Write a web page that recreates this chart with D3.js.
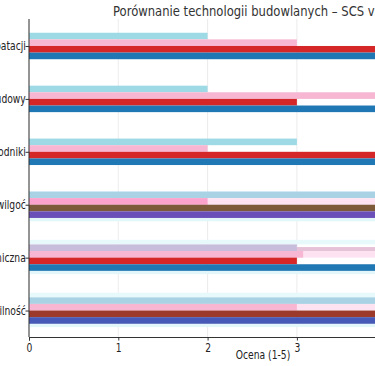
<!DOCTYPE html>
<html><head><meta charset="utf-8">
<script src="https://cdn.jsdelivr.net/npm/d3@7"></script>
<style>body{margin:0;background:#fff;overflow:hidden}svg{display:block;font-family:"DejaVu Sans",sans-serif}</style>
</head><body><div id="c"></div>
<script>
// Categories (top to bottom)
const categories = ["Koszt eksploatacji","Czas budowy","Przewodniki","Odporność na wilgoć","Wytrzymałość mechaniczna","Stabilność"];
const xTicks = [0,1,2,3,4,5];
const title = "Porównanie technologii budowlanych – SCS vs inne";
const xLabel = "Ocena (1-5)";

// Series values (one per category); drawn in order, later layers on top
const valCyan      = [2,2,3,0,0,0];
const valLightBlue = [0,0,0,5,0,5];
const valPaleMid   = [0,0,0,0,5,0];
const valLilac     = [0,0,0,0,3,0];
const valPalePink  = [0,0,0,5,5,5];
const valPink      = [3,5,2,0,3.07,3];
const valHotPink   = [0,0,0,2,0,0];
const valRed       = [5,3,5,0,3,0];
const valBrown     = [0,0,0,5,0,0];
const valBrownRed  = [0,0,0,0,0,5];
const valBlue      = [5,5,5,0,5,0];
const valPurple    = [0,0,0,5,0,0];
const valBluePurple= [0,0,0,0,0,5];
const valFaintTop  = [0,0,0,0,5,5];
const valFaintBot  = [0,0,0,5,5,5];

const layers = [
  {v:valFaintTop,  band:-0.7, h:0.7, c:"#e8f9fc"},
  {v:valFaintBot,  band:4,    h:0.5, c:"#e3f7fb"},
  {v:valCyan,      band:0, h:1, c:"#9edae5"},
  {v:valLightBlue, band:0, h:1, c:"#a9d3e5"},
  {v:valPaleMid,   band:0.4, h:1, c:"#e6c2d8"},
  {v:valLilac,     band:0, h:1, c:"#c8bedb"},
  {v:valPalePink,  band:1, h:1, c:"#fde3f2"},
  {v:valPink,      band:1, h:1, c:"#f7b6d2"},
  {v:valHotPink,   band:1, h:1, c:"#fba3cc"},
  {v:valRed,       band:2, h:1, c:"#d62728"},
  {v:valBrown,     band:2, h:1, c:"#7d5a3a"},
  {v:valBrownRed,  band:2, h:1, c:"#9b3a2b"},
  {v:valBlue,      band:3, h:1, c:"#1f77b4"},
  {v:valPurple,    band:3, h:1, c:"#6a4fb8"},
  {v:valBluePurple,band:3, h:1, c:"#4759b6"}
];

const W = 375, H = 366, SX = 0.8;
const svg = d3.select("#c").append("svg").attr("width", W).attr("height", H);
const x = d3.scaleLinear().domain([0, 5.25]).range([29, 497.8]);
const y = d3.scaleLinear().domain([-0.51, 5.5]).range([19, 337]);
const bandH = 0.125;

// grid
svg.append("g").selectAll("line").data(xTicks).join("line")
  .attr("x1", d => x(d)).attr("x2", d => x(d)).attr("y1", y(-0.51)).attr("y2", y(5.5))
  .attr("stroke", "#b0b0b0").attr("stroke-opacity", 0.3).attr("stroke-width", 0.8);

// bars
layers.forEach(L => {
  svg.append("g").selectAll("rect").data(L.v.map((v, i) => ({v, i})).filter(d => d.v > 0)).join("rect")
    .attr("x", x(0))
    .attr("y", d => y(d.i - 0.25 + L.band * bandH))
    .attr("width", d => x(d.v) - x(0))
    .attr("height", y(L.h * bandH) - y(0))
    .attr("fill", L.c);
});

// axes
const xAxis = d3.axisBottom(x).tickValues(xTicks).tickFormat(d3.format("d")).tickSize(3.5).tickPadding(3);
const gx = svg.append("g").attr("transform", `translate(0,${y(5.5)})`).call(xAxis);
gx.select(".domain").attr("stroke", "#333").attr("stroke-width", 1);
gx.selectAll(".tick line").attr("stroke", "#333");
gx.selectAll("text").attr("font-size", 11.5).attr("fill", "#222").attr("font-family", "DejaVu Sans")
  .attr("transform", `scale(${SX},1)`);

const yAxis = d3.axisLeft(y).tickValues(d3.range(categories.length)).tickFormat(i => categories[i]).tickSize(3.5).tickPadding(3);
const gy = svg.append("g").attr("transform", `translate(${x(0)},0)`).call(yAxis);
gy.select(".domain").attr("stroke", "#333").attr("stroke-width", 1).attr("d", `M0,${y(-0.51)}V${y(5.5)}`);
gy.selectAll(".tick line").attr("stroke", "#333");
gy.selectAll("text").attr("font-size", 11.5).attr("fill", "#222").attr("font-family", "DejaVu Sans")
  .attr("x", -4).attr("transform", `scale(${SX},1)`);

svg.append("text").attr("x", 263).attr("y", 359).attr("text-anchor", "middle")
  .attr("font-size", 11.5).attr("fill", "#222")
  .attr("transform", `translate(263,0) scale(${SX},1) translate(-263,0)`).text(xLabel);
svg.append("text").attr("x", 113).attr("y", 16.5).attr("text-anchor", "start")
  .attr("font-size", 14.5).attr("fill", "#333")
  .attr("transform", `translate(113,0) scale(0.8,1) translate(-113,0)`).text(title);
</script></body></html>
